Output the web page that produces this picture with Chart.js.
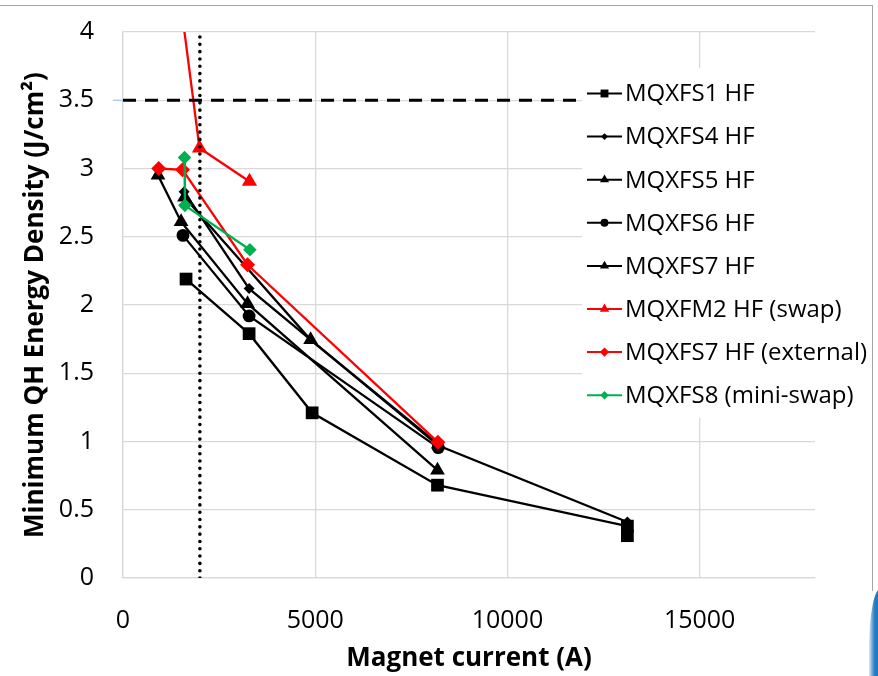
<!DOCTYPE html>
<html lang="en">
<head>
<meta charset="UTF-8">
<title>Minimum QH energy density vs magnet current</title>
<script src="https://cdn.jsdelivr.net/npm/chart.js"></script>
<style>
  html, body { margin: 0; padding: 0; background: #fff; }
  #wrap { position: relative; width: 878px; height: 676px; overflow: hidden; }
  #frame { position: absolute; left: -4px; top: 5px; width: 876px; height: 585px;
    border-top: 1.5px solid #a6a6a6; border-right: 1.5px solid #a6a6a6; }
  #deco { position: absolute; left: 869px; top: 588px; width: 12px; height: 92px;
    background: linear-gradient(90deg, #d6e8f6 0%, #2b7fc4 45%, #1c6aad 100%);
    border-top-left-radius: 12px 60px; }
  canvas { position: absolute; left: 0; top: 0; }
</style>
</head>
<body>
<div id="wrap">
  <div id="frame"></div>
  <div id="deco"></div>
  <canvas id="chart" width="878" height="676"></canvas>
</div>

<script>
// axis ticks
const xTicks = [0, 5000, 10000, 15000];
const yTicks = [0, 0.5, 1, 1.5, 2, 2.5, 3, 3.5, 4];

// series: magnet current (A) and minimum QH energy density (J/cm2)
const mqxfs1Current = [1640, 3280, 4920, 8180, 13120, 13120];
const mqxfs1Energy  = [2.19, 1.79, 1.21, 0.68, 0.38, 0.31];
const mqxfs4Current = [1590, 3280, 8200, 13120];
const mqxfs4Energy  = [2.83, 2.12, 0.97, 0.41];
const mqxfs5Current = [910, 1510, 3240, 8180];
const mqxfs5Energy  = [2.95, 2.61, 2.01, 0.79];
const mqxfs6Current = [1560, 3280, 8200];
const mqxfs6Energy  = [2.51, 1.92, 0.955];
const mqxfs7Current = [1600, 4880, 8200];
const mqxfs7Energy  = [2.79, 1.745, 0.98];
const mqxfm2SwapCurrent = [1300, 1990, 3290];
const mqxfm2SwapEnergy  = [4.65, 3.15, 2.905];
const mqxfs7ExtCurrent = [930, 1550, 3240, 8190];
const mqxfs7ExtEnergy  = [3.0, 2.99, 2.295, 0.995];
const mqxfs8Current = [1600, 1610, 3300];
const mqxfs8Energy  = [3.08, 2.73, 2.405];

// reference lines
const refEnergy = 3.5;
const refCurrent = 2000;

const pts = (xs, ys) => xs.map((x, i) => ({ x: x, y: ys[i] }));

function series(label, xs, ys, color, style, radius) {
  return {
    label: label,
    data: pts(xs, ys),
    showLine: true,
    borderColor: color,
    backgroundColor: color,
    borderWidth: 2.3,
    pointStyle: style,
    pointRadius: radius,
    pointHoverRadius: radius,
    pointBorderWidth: 0
  };
}

const datasets = [
  series('MQXFS1 HF', mqxfs1Current, mqxfs1Energy, '#000000', 'rect', 9),
  series('MQXFS4 HF', mqxfs4Current, mqxfs4Energy, '#000000', 'rectRot', 5.5),
  series('MQXFS5 HF', mqxfs5Current, mqxfs5Energy, '#000000', 'triangle', 8.5),
  series('MQXFS6 HF', mqxfs6Current, mqxfs6Energy, '#000000', 'circle', 6.4),
  series('MQXFS7 HF', mqxfs7Current, mqxfs7Energy, '#000000', 'triangle', 8.5),
  series('MQXFM2 HF (swap)', mqxfm2SwapCurrent, mqxfm2SwapEnergy, '#ff0000', 'triangle', 8.8),
  series('MQXFS7 HF (external)', mqxfs7ExtCurrent, mqxfs7ExtEnergy, '#ff0000', 'rectRot', 7.5),
  series('MQXFS8 (mini-swap)', mqxfs8Current, mqxfs8Energy, '#00b050', 'rectRot', 6.8)
];
// later series on top, like the original
datasets.forEach((d, i) => { d.order = datasets.length - i + 1; });

datasets.push({
  label: 'limit',
  data: [{ x: 0, y: refEnergy }, { x: 18000, y: refEnergy }],
  showLine: true, borderColor: '#000', borderWidth: 3, borderDash: [13, 9],
  pointRadius: 0, order: 1
});
datasets.push({
  label: 'current',
  data: [{ x: refCurrent, y: 0 }, { x: refCurrent, y: 4 }],
  showLine: true, borderColor: '#000', borderWidth: 3.6, borderDash: [0.01, 7.3],
  borderCapStyle: 'round', pointRadius: 0, order: 0
});

function marker(ctx, style, x, y, r) {
  ctx.beginPath();
  if (style === 'rect') {
    const s = r * Math.SQRT1_2;
    ctx.rect(x - s, y - s, 2 * s, 2 * s);
  } else if (style === 'rectRot') {
    ctx.moveTo(x - r, y); ctx.lineTo(x, y - r); ctx.lineTo(x + r, y); ctx.lineTo(x, y + r);
    ctx.closePath();
  } else if (style === 'triangle') {
    for (let k = 0; k < 3; k++) {
      const a = k * 2 * Math.PI / 3;
      const px = x + Math.sin(a) * r, py = y - Math.cos(a) * r;
      if (k === 0) ctx.moveTo(px, py); else ctx.lineTo(px, py);
    }
    ctx.closePath();
  } else {
    ctx.arc(x, y, r, 0, Math.PI * 2);
  }
  ctx.fill();
}

// legend drawn on a white box over the plot, line + marker like Excel
const legendBox = {
  id: 'legendBox',
  afterDraw(chart) {
    const ctx = chart.ctx;
    const y0 = chart.scales.y.getPixelForValue(refEnergy);
    ctx.save();
    ctx.strokeStyle = '#9dc3e6';
    ctx.lineWidth = 1.2;
    ctx.beginPath();
    ctx.moveTo(chart.chartArea.left - 10, y0);
    ctx.lineTo(chart.chartArea.left, y0);
    ctx.stroke();

    ctx.fillStyle = '#fff';
    ctx.fillRect(582, 68, 289, 350);
    ctx.font = "24px 'Open Sans', sans-serif";
    ctx.textBaseline = 'middle';
    ctx.textAlign = 'left';
    datasets.slice(0, 8).forEach((d, i) => {
      const y = 93.5 + i * 43.1;
      ctx.strokeStyle = d.borderColor;
      ctx.lineWidth = 2;
      ctx.beginPath();
      ctx.moveTo(587, y);
      ctx.lineTo(622, y);
      ctx.stroke();
      ctx.fillStyle = d.borderColor;
      marker(ctx, d.pointStyle, 604.5, y, d.pointRadius * 0.62);
      ctx.fillStyle = '#000';
      ctx.fillText(d.label, 625, y + 1);
    });
    ctx.restore();
  }
};

Chart.defaults.font.family = "'Open Sans', sans-serif";
Chart.defaults.color = '#000';

new Chart(document.getElementById('chart'), {
  type: 'scatter',
  data: { datasets: datasets },
  options: {
    responsive: false,
    animation: false,
    layout: { padding: { top: 32, right: 63, left: 0, bottom: 0 } },
    plugins: { legend: { display: false }, tooltip: { enabled: false } },
    scales: {
      x: {
        type: 'linear', min: 0, max: 18000,
        afterBuildTicks: s => { s.ticks = xTicks.map(v => ({ value: v })); },
        afterFit: s => { s.height = 98; s.paddingLeft = 0; s.paddingRight = 0; },
        grid: { color: '#d9d9d9', lineWidth: 1.3, drawTicks: false },
        border: { color: '#d9d9d9', width: 1.3 },
        ticks: { font: { size: 25 }, color: '#000', padding: 28, maxRotation: 0,
          callback: v => String(v) },
        title: { display: true, text: 'Magnet current (A)', color: '#000',
          font: { size: 26, weight: 'bold' }, padding: { top: 0, bottom: 2 } }
      },
      y: {
        min: 0, max: 4,
        afterBuildTicks: s => { s.ticks = yTicks.map(v => ({ value: v })); },
        afterFit: s => { s.width = 123; s.paddingTop = 0; s.paddingBottom = 0; },
        grid: { color: '#d9d9d9', lineWidth: 1.3, drawTicks: false },
        border: { color: '#d9d9d9', width: 1.3 },
        ticks: { font: { size: 25 }, color: '#000', padding: 29,
          callback: v => String(v) },
        title: { display: true, text: 'Minimum QH Energy Density (J/cm²)', color: '#000',
          font: { size: 26, weight: 'bold' }, padding: { top: 20, bottom: 0 } }
      }
    }
  },
  plugins: [legendBox]
});
</script>
</body>
</html>
